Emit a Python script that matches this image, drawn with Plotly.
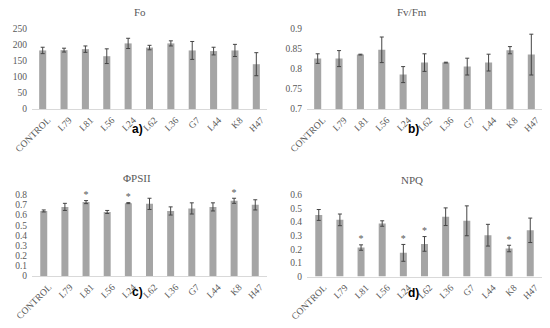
import plotly.graph_objects as go

categories = ["CONTROL", "L79", "L81", "L56", "L24", "L62", "L36", "G7", "L44", "K8", "H47"]

fo_values = [183, 184, 187, 165, 205, 192, 205, 183, 181, 183, 140]
fo_errors = [10, 6, 10, 23, 16, 7, 8, 28, 12, 19, 36]

fvfm_values = [0.826, 0.826, 0.836, 0.848, 0.786, 0.816, 0.816, 0.806, 0.816, 0.847, 0.836]
fvfm_errors = [0.012, 0.02, 0.001, 0.032, 0.02, 0.022, 0.001, 0.021, 0.021, 0.009, 0.051]

phipsii_values = [0.64, 0.68, 0.727, 0.63, 0.717, 0.71, 0.64, 0.665, 0.68, 0.74, 0.70]
phipsii_errors = [0.01, 0.035, 0.015, 0.015, 0.005, 0.055, 0.04, 0.055, 0.04, 0.025, 0.05]
phipsii_sig = ["", "", "*", "", "*", "", "", "", "", "*", ""]

npq_values = [0.453, 0.417, 0.213, 0.39, 0.174, 0.24, 0.44, 0.41, 0.304, 0.206, 0.34]
npq_errors = [0.04, 0.043, 0.02, 0.02, 0.062, 0.054, 0.065, 0.11, 0.08, 0.024, 0.09]
npq_sig = ["", "", "*", "", "*", "*", "", "", "", "*", ""]

panels = [
    dict(title="Fo", label="a)", vals=fo_values, errs=fo_errors, sig=None,
         rng=[0, 250], dtick=50),
    dict(title="Fv/Fm", label="b)", vals=fvfm_values, errs=fvfm_errors, sig=None,
         rng=[0.7, 0.9], dtick=0.05),
    dict(title="ΦPSII", label="c)", vals=phipsii_values, errs=phipsii_errors, sig=phipsii_sig,
         rng=[0, 0.8], dtick=0.1),
    dict(title="NPQ", label="d)", vals=npq_values, errs=npq_errors, sig=npq_sig,
         rng=[0, 0.6], dtick=0.1),
]

W, H = 550, 328
# pixel layout (x0, x1, ybottom, ytop)
boxes = [
    (32, 267, 109, 29),
    (307, 542, 109, 29),
    (32, 267, 276, 194.7),
    (307, 542, 276.5, 195),
]
title_pos = [(140, 12), (412, 12), (137, 178), (412, 180)]
label_pos = [(137, 129), (413, 129), (137, 292), (413, 293)]

BAR = "#a5a5a5"
ERR = "#454545"
TXT = "#595959"
SERIF = "Liberation Serif, Times New Roman, serif"

fig = go.Figure()
layout = dict(
    width=W, height=H, margin=dict(l=0, r=0, t=0, b=0, autoexpand=False),
    paper_bgcolor="white", plot_bgcolor="white", showlegend=False,
    bargap=0.67,
)
annotations = []
for i, (p, b) in enumerate(zip(panels, boxes)):
    n = "" if i == 0 else str(i + 1)
    xa, ya = "x" + n, "y" + n
    fig.add_trace(go.Bar(
        x=categories, y=p["vals"], marker=dict(color=BAR, line=dict(width=0)),
        error_y=dict(type="data", array=p["errs"], color=ERR, thickness=1, width=2),
        xaxis=xa, yaxis=ya, hoverinfo="skip",
    ))
    if p["sig"]:
        fig.add_trace(go.Scatter(
            x=categories, y=[v + e for v, e in zip(p["vals"], p["errs"])],
            mode="text", text=p["sig"], textposition="top center",
            textfont=dict(family=SERIF, size=10, color=TXT),
            xaxis=xa, yaxis=ya, hoverinfo="skip", cliponaxis=False,
        ))
    x0, x1, yb, yt = b
    layout["xaxis" + n] = dict(
        domain=[x0 / W, x1 / W], anchor=ya, tickangle=-45, automargin=False,
        showline=True, linecolor="#d9d9d9", linewidth=1, ticks="",
        ticklabelstandoff=1, ticklabelshift=5,
        showgrid=False, tickfont=dict(family=SERIF, size=9.5, color=TXT),
        fixedrange=True,
    )
    layout["yaxis" + n] = dict(
        domain=[1 - yb / H, 1 - yt / H], anchor=xa, range=p["rng"], automargin=False,
        dtick=p["dtick"], tick0=p["rng"][0], showgrid=False, zeroline=False,
        ticklabelstandoff=4,
        showline=False, ticks="", tickfont=dict(family=SERIF, size=9.5, color=TXT),
        fixedrange=True,
    )
    tx, ty = title_pos[i]
    annotations.append(dict(
        text=p["title"], x=tx / W, y=1 - ty / H, xref="paper", yref="paper",
        showarrow=False, xanchor="center", yanchor="middle",
        font=dict(family=SERIF, size=11, color=TXT),
    ))
    lx, ly = label_pos[i]
    annotations.append(dict(
        text="<b>" + p["label"] + "</b>", x=lx / W, y=1 - ly / H,
        xref="paper", yref="paper", showarrow=False, xanchor="center",
        yanchor="middle", font=dict(family="Liberation Sans, Arial, sans-serif", size=12, color="black"),
    ))
layout["annotations"] = annotations
fig.update_layout(**layout)
fig.write_html(
    "out.html",
    config={"displayModeBar": False},
    post_script="document.body.style.margin='0';",
)
